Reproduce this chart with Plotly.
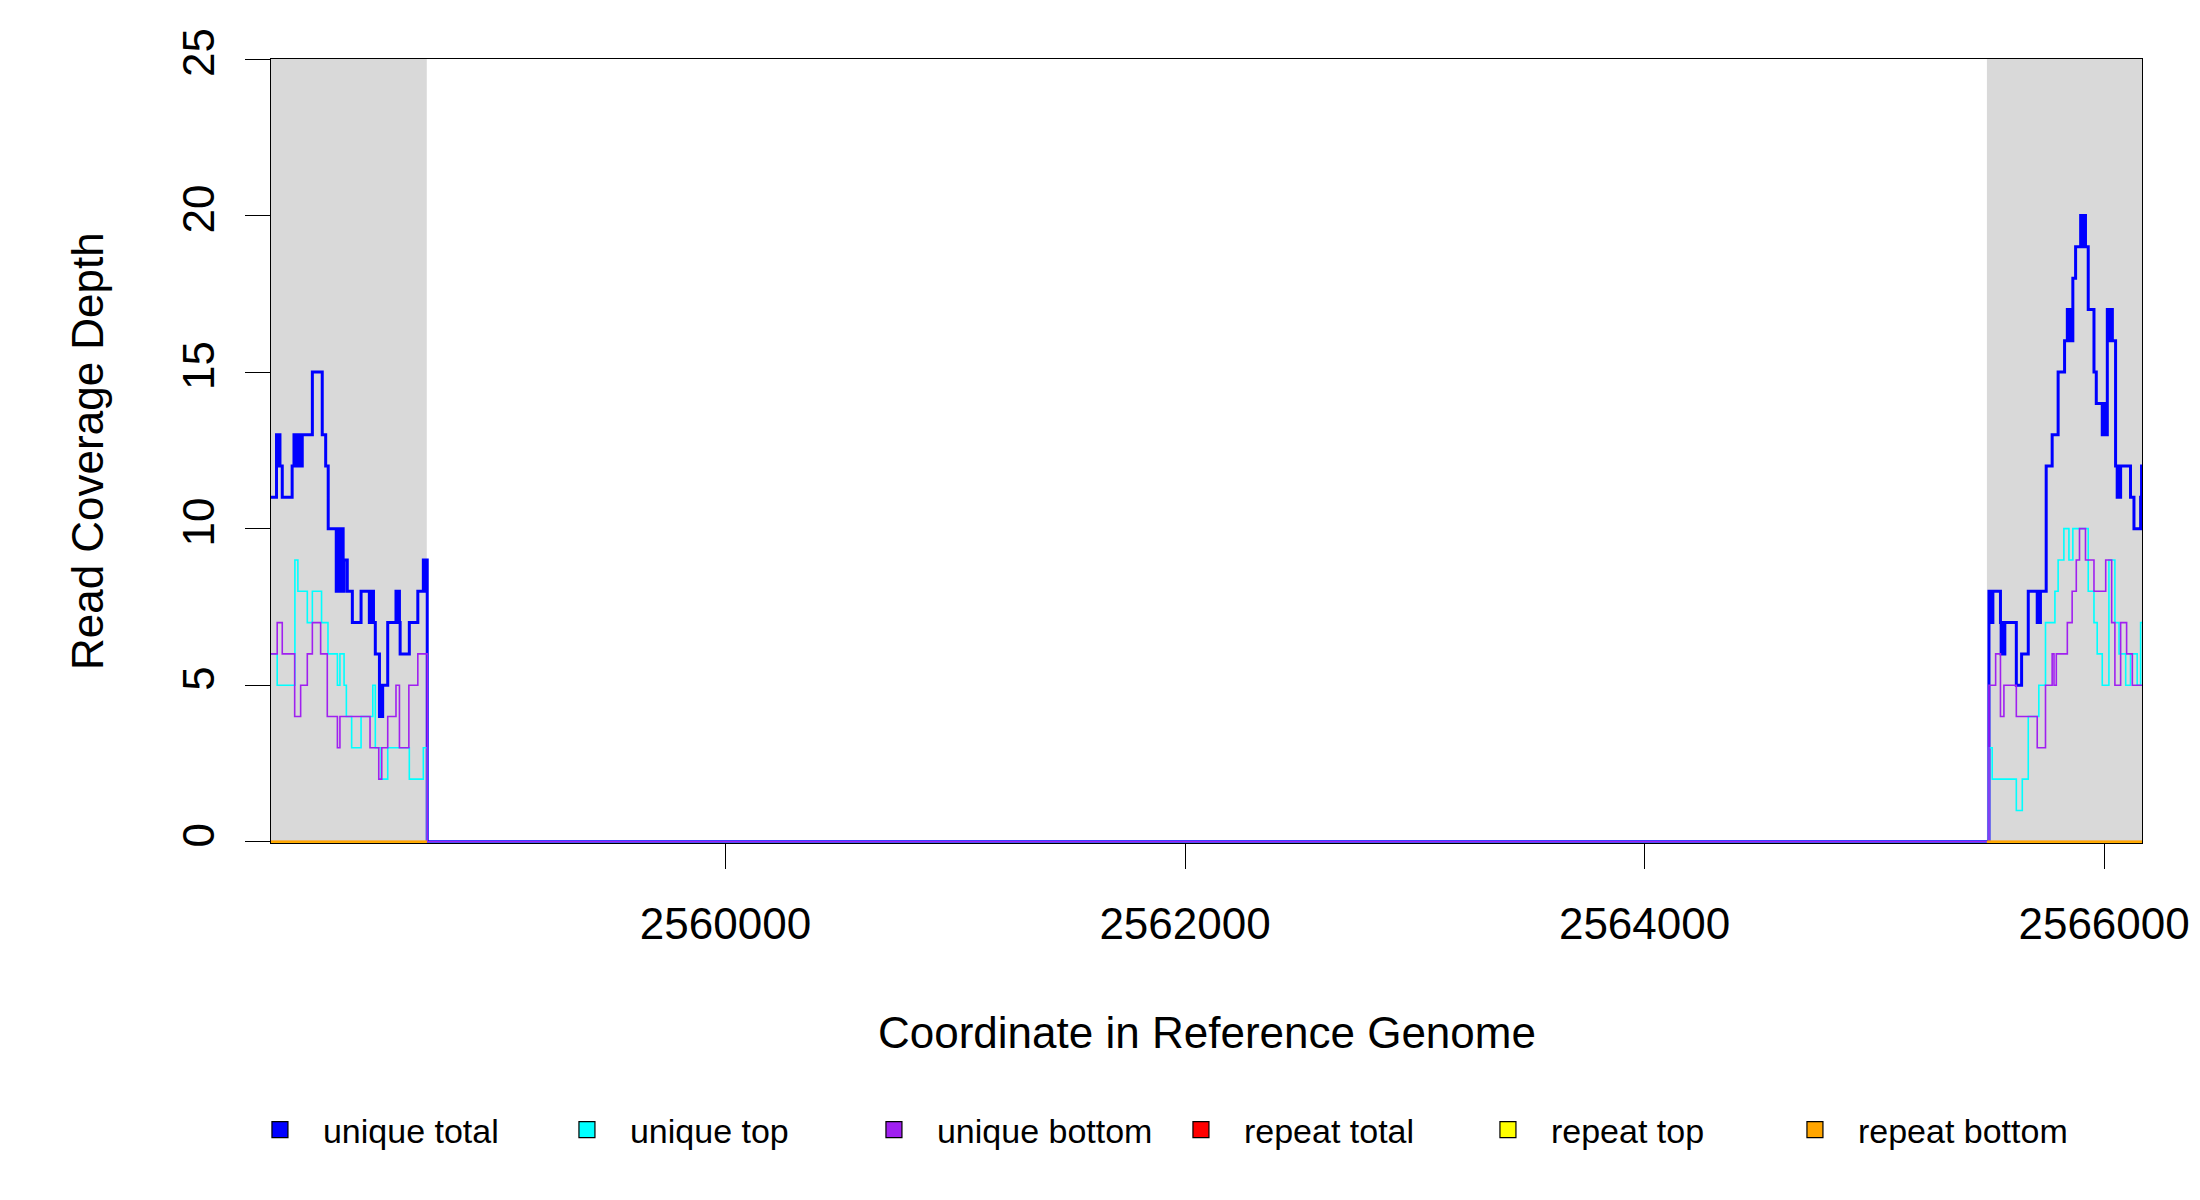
import plotly.graph_objects as go

# ---------------- data ----------------
X_START = 2558022
X_END = 2566165
SHADED_REGIONS = [(2558022, 2558700), (2565490, 2566165)]
X_TICKS = [2560000, 2562000, 2564000, 2566000]
Y_TICKS = [0, 5, 10, 15, 20, 25]

# (start coordinate, depth) steps, left flank
UNIQUE_TOTAL_LEFT = [
    (2558022, 11), (2558046, 13), (2558049, 12), (2558052, 13), (2558055, 12), (2558058, 13),
    (2558061, 12), (2558071, 11), (2558114, 12), (2558122, 13), (2558125, 12), (2558128, 13),
    (2558131, 12), (2558134, 13), (2558137, 12), (2558140, 13), (2558143, 12), (2558146, 13),
    (2558149, 12), (2558152, 13), (2558155, 12), (2558158, 13), (2558202, 15), (2558245, 13),
    (2558260, 12), (2558271, 10), (2558306, 8), (2558309, 10), (2558312, 8), (2558315, 10),
    (2558318, 8), (2558321, 10), (2558324, 8), (2558327, 10), (2558330, 8), (2558333, 10),
    (2558336, 8), (2558340, 9), (2558354, 8), (2558376, 7), (2558414, 8), (2558450, 7),
    (2558453, 8), (2558456, 7), (2558459, 8), (2558462, 7), (2558465, 8), (2558468, 7),
    (2558476, 6), (2558494, 4), (2558497, 5), (2558500, 4), (2558503, 5), (2558506, 4),
    (2558508, 5), (2558530, 7), (2558566, 8), (2558569, 7), (2558572, 8), (2558575, 7),
    (2558578, 8), (2558581, 7), (2558584, 6), (2558624, 7), (2558661, 8), (2558685, 9),
    (2558688, 8), (2558691, 9), (2558694, 8), (2558697, 9), (2558702, 0),
]
UNIQUE_TOP_LEFT = [
    (2558022, 6), (2558049, 5), (2558126, 9), (2558139, 8), (2558180, 7), (2558202, 8),
    (2558242, 7), (2558270, 6), (2558311, 5), (2558322, 6), (2558340, 5), (2558350, 4),
    (2558373, 3), (2558414, 4), (2558465, 5), (2558476, 3), (2558501, 2), (2558530, 3),
    (2558624, 2), (2558685, 3), (2558702, 0),
]
UNIQUE_BOTTOM_LEFT = [
    (2558022, 6), (2558049, 7), (2558071, 6), (2558125, 4), (2558151, 5), (2558180, 6),
    (2558202, 7), (2558238, 6), (2558267, 4), (2558311, 3), (2558322, 4), (2558453, 3),
    (2558491, 2), (2558504, 3), (2558530, 4), (2558566, 5), (2558581, 3), (2558622, 5),
    (2558661, 6), (2558702, 0),
]

# right flank
UNIQUE_TOTAL_RIGHT = [
    (2565499, 8), (2565502, 7), (2565505, 8), (2565508, 7), (2565511, 8), (2565514, 7),
    (2565516, 8), (2565549, 7), (2565552, 6), (2565555, 7), (2565558, 6), (2565561, 7),
    (2565564, 6), (2565568, 7), (2565618, 5), (2565641, 6), (2565670, 8), (2565709, 7),
    (2565712, 8), (2565715, 7), (2565718, 8), (2565721, 7), (2565723, 8), (2565748, 12),
    (2565774, 13), (2565800, 15), (2565828, 16), (2565840, 17), (2565843, 16), (2565846, 17),
    (2565849, 16), (2565852, 17), (2565855, 16), (2565858, 17), (2565861, 16), (2565864, 18),
    (2565876, 19), (2565898, 20), (2565901, 19), (2565904, 20), (2565907, 19), (2565910, 20),
    (2565913, 19), (2565916, 20), (2565919, 19), (2565931, 17), (2565956, 15), (2565966, 14),
    (2565992, 13), (2565995, 14), (2565998, 13), (2566001, 14), (2566004, 13), (2566007, 14),
    (2566010, 13), (2566014, 17), (2566017, 16), (2566020, 17), (2566023, 16), (2566026, 17),
    (2566029, 16), (2566032, 17), (2566036, 16), (2566050, 12), (2566057, 11), (2566060, 12),
    (2566063, 11), (2566066, 12), (2566069, 11), (2566072, 12), (2566115, 11), (2566130, 10),
    (2566159, 11), (2566163, 12),
]
UNIQUE_TOP_RIGHT = [
    (2565499, 3), (2565513, 2), (2565618, 1), (2565644, 2), (2565670, 4), (2565716, 5),
    (2565745, 7), (2565786, 8), (2565800, 9), (2565825, 10), (2565847, 9), (2565864, 10),
    (2565931, 8), (2565956, 7), (2565970, 6), (2565992, 5), (2566021, 9), (2566047, 7),
    (2566065, 6), (2566094, 5), (2566115, 6), (2566144, 5), (2566159, 7),
]
UNIQUE_BOTTOM_RIGHT = [
    (2565499, 5), (2565528, 6), (2565549, 4), (2565564, 5), (2565618, 4), (2565709, 3),
    (2565745, 5), (2565774, 6), (2565782, 5), (2565792, 6), (2565840, 7), (2565861, 8),
    (2565879, 9), (2565893, 10), (2565919, 9), (2565956, 8), (2566007, 9), (2566033, 7),
    (2566047, 5), (2566072, 7), (2566098, 6), (2566123, 5),
]

# repeat-derived coverage (zero in both flanks)
REPEAT_X = [2558022, 2558700, None, 2565490, 2566165]
REPEAT_TOTAL = [0, 0, None, 0, 0]
REPEAT_TOP = [0, 0, None, 0, 0]
REPEAT_BOTTOM = [0, 0, None, 0, 0]

SERIES_NAMES = ["unique total", "unique top", "unique bottom", "repeat total", "repeat top", "repeat bottom"]
SERIES_COLORS = ["#0000FF", "#00FFFF", "#A020F0", "#FF0000", "#FFFF00", "#FFA500"]

# ---------------- figure ----------------
FONT = "Liberation Sans, Arial, Helvetica, sans-serif"


def step_xy(left, right):
    pts = left + right
    xs = [p for p, _ in pts] + [X_END]
    ys = [v for _, v in pts] + [pts[-1][1]]
    return xs, ys


fig = go.Figure()

unique_sets = [
    (UNIQUE_TOTAL_LEFT, UNIQUE_TOTAL_RIGHT, 3.0),
    (UNIQUE_TOP_LEFT, UNIQUE_TOP_RIGHT, 1.6),
    (UNIQUE_BOTTOM_LEFT, UNIQUE_BOTTOM_RIGHT, 1.6),
]
for i, (lft, rgt, w) in enumerate(unique_sets):
    xs, ys = step_xy(lft, rgt)
    fig.add_trace(go.Scatter(x=xs, y=ys, mode="lines", line=dict(color=SERIES_COLORS[i], width=w, shape="hv"),
                             showlegend=False, hoverinfo="skip"))

for i, vals in enumerate([REPEAT_TOTAL, REPEAT_TOP, REPEAT_BOTTOM]):
    fig.add_trace(go.Scatter(x=REPEAT_X, y=vals, mode="lines", line=dict(color=SERIES_COLORS[3 + i], width=2.2, shape="hv"),
                             showlegend=False, hoverinfo="skip", connectgaps=False))

# legend keys
for name, col in zip(SERIES_NAMES, SERIES_COLORS):
    fig.add_trace(go.Scatter(x=[None], y=[None], mode="markers", name=name,
                             marker=dict(symbol="square", size=22, color=col, line=dict(color="black", width=1.2))))

fig.update_layout(
    width=2200, height=1200,
    margin=dict(l=263, r=66, t=51, b=365),
    plot_bgcolor="white", paper_bgcolor="white",
    font=dict(family=FONT, size=44, color="black"),
    shapes=[dict(type="rect", xref="x", yref="paper", x0=a, x1=b, y0=0, y1=1,
                 fillcolor="#D9D9D9", line_width=0, layer="below") for a, b in SHADED_REGIONS],
    xaxis=dict(range=[X_START, X_END], tickvals=X_TICKS, ticktext=[str(t) for t in X_TICKS],
               ticks="outside", ticklen=25, tickwidth=1.4, tickcolor="black",
               showline=True, mirror=True, linecolor="black", linewidth=1.4,
               showgrid=False, zeroline=False, layer="below traces", ticklabelstandoff=17,
               tickfont=dict(size=44)),
    yaxis=dict(range=[-0.04, 25], tickvals=Y_TICKS, ticktext=[str(t) for t in Y_TICKS],
               ticks="outside", ticklen=25, tickwidth=1.4, tickcolor="black", tickangle=-90,
               showline=True, mirror=True, linecolor="black", linewidth=1.4,
               showgrid=False, zeroline=False, layer="below traces", ticklabelstandoff=13,
               tickfont=dict(size=44)),
    legend=dict(orientation="h", x=-0.0182, y=-0.366, xanchor="left", yanchor="middle",
                font=dict(size=34, family=FONT), entrywidth=216, entrywidthmode="pixels",
                itemwidth=76,
                bgcolor="rgba(0,0,0,0)", itemclick=False, itemdoubleclick=False),
    annotations=[
        dict(text="Coordinate in Reference Genome", xref="paper", yref="paper", x=0.5, y=-0.2411,
             xanchor="center", yanchor="middle", showarrow=False, font=dict(size=44, family=FONT)),
        dict(text="Read Coverage Depth", xref="paper", yref="paper", x=-0.0983, y=0.5, textangle=-90,
             xanchor="center", yanchor="middle", showarrow=False, font=dict(size=44, family=FONT)),
    ],
)

fig.write_html("out.html")
